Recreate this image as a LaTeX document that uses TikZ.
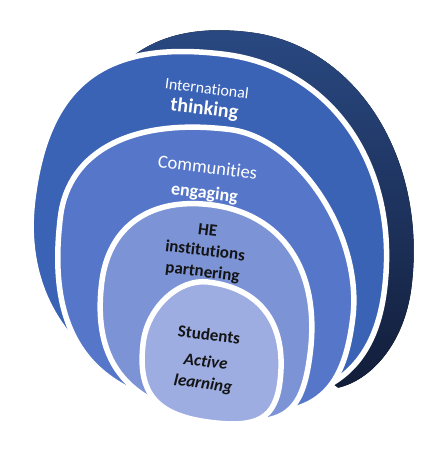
\documentclass[tikz,border=0pt]{standalone}
\usepackage{fontspec}
\setmainfont{Carlito}[Ligatures=NoCommon]

\definecolor{backdark}{HTML}{2A4A84}
\definecolor{backdeep}{HTML}{121D39}
\definecolor{ringone}{HTML}{3A62B5}
\definecolor{ringtwo}{HTML}{5677C9}
\definecolor{ringthree}{HTML}{7C93D6}
\definecolor{ringfour}{HTML}{9DADE2}
\definecolor{inkdark}{HTML}{141414}

\begin{document}
\begin{tikzpicture}[
    x=1pt, y=-1pt,
    ring/.style={draw=white, line width=5.5pt, line join=round},
    lightlabel/.style={text=white, rotate=-7, inner sep=0pt, align=center},
    darklabel/.style={text=inkdark, rotate=-7, inner sep=0pt, align=center}
  ]
  \useasboundingbox (0,0) rectangle (421,460);

  \begin{scope}[rotate around={-7:(210,250)}]
    % dark back rim
    \fill[top color=backdark, bottom color=backdeep]
      (55,260) .. controls (55,98.3) and (105.4,29) .. (223,29)
      .. controls (330.2,29) and (414.5,131.5) .. (414.5,262)
      .. controls (414.5,320) and (385,360) .. (354,371)
      -- (230,300) -- cycle;
    % layers, outer to inner
    \filldraw[ring, fill=ringone]
      (28,222) .. controls (28,104.4) and (79.6,54) .. (200,54)
      .. controls (309,54) and (388,143.9) .. (388,268)
      .. controls (388,359.1) and (334.4,400) .. (215,400)
      .. controls (102.8,400) and (28,328.8) .. (28,222) -- cycle;
    \filldraw[ring, fill=ringtwo]
      (57.5,235) .. controls (57.5,168.7) and (117.4,128) .. (215,128)
      .. controls (284.6,128) and (360,217.4) .. (360,300)
      .. controls (360,384.7) and (329,410) .. (225,410)
      .. controls (109.4,410) and (57.5,355.8) .. (57.5,235) -- cycle;
    \filldraw[ring, fill=ringthree]
      (106.5,295) .. controls (106.5,239.2) and (143.9,205) .. (205,205)
      .. controls (277.5,205) and (322,256.3) .. (322,340)
      .. controls (322,401.6) and (305.6,417) .. (240,417)
      .. controls (149.2,417) and (106.5,378) .. (106.5,295) -- cycle;
    \filldraw[ring, fill=ringfour]
      (155,350) .. controls (155,314.6) and (182.4,282) .. (212,282)
      .. controls (265.4,282) and (295.5,314.4) .. (295.5,372)
      .. controls (295.5,408.8) and (279.6,421) .. (232,421)
      .. controls (176.6,421) and (155,401.1) .. (155,350) -- cycle;
  \end{scope}

  % labels
  \node[lightlabel, font=\fontsize{16}{21}\selectfont] (global) at (205.5,100.5)
    {International\\{\fontsize{20}{21}\selectfont\bfseries thinking}};
  \node[lightlabel, font=\fontsize{18.5}{25}\selectfont] (community) at (206,181)
    {Communities\\{\fontsize{18}{25}\selectfont\bfseries engaging}};
  \node[darklabel, font=\fontsize{17}{21}\selectfont\bfseries] (partner) at (205,252)
    {HE\\institutions\\partnering};
  \node[darklabel, font=\fontsize{17}{22}\selectfont\bfseries] (student) at (206,360)
    {Students\\[5pt]{\itshape Active}\\{\itshape learning}};
\end{tikzpicture}
\end{document}
